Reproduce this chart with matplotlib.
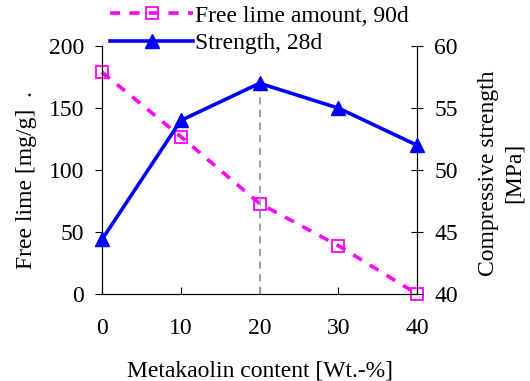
import matplotlib.pyplot as plt

plt.rcParams["font.family"] = ["Liberation Serif", "DejaVu Serif"]

metakaolin = [0, 10, 20, 30, 40]
free_lime = [179, 127, 73, 39, 0]
strength = [44.4, 54, 57, 55, 52]
peak_x = 20
peak_strength = 57

fs = 17

fig = plt.figure(figsize=(5.3, 3.81), dpi=100)
ax = fig.add_axes([0.1925, 0.2283, 0.5945, 0.6507])
ax2 = ax.twinx()

l1, = ax.plot(metakaolin, free_lime, color="#FF00FF", linestyle=(0, (2.8, 2.6)),
              linewidth=2.6, marker="s", markersize=8, markerfacecolor="none",
              markeredgecolor="#FF00FF", markeredgewidth=1.3, clip_on=False, zorder=3)
l2, = ax2.plot(metakaolin, strength, color="#0000FF", linewidth=2.6, marker="^",
               markersize=10, clip_on=False, zorder=3)

# dashed guide from the axis up to the peak strength
ax2.plot([peak_x, peak_x], [40, peak_strength], color="#999999", linestyle=(0, (4, 3)),
         linewidth=1.3, zorder=1)

ax.set_xlim(0, 40)
ax.set_ylim(0, 200)
ax2.set_ylim(40, 60)
ax.set_xticks(metakaolin)
ax.set_yticks([0, 50, 100, 150, 200])
ax2.set_yticks([40, 45, 50, 55, 60])

for a in (ax, ax2):
    a.spines["top"].set_visible(False)
    a.tick_params(labelsize=fs, width=0.8, length=5)
ax.tick_params(axis="x", direction="in", pad=17)
ax.tick_params(axis="y", direction="out", pad=8)
ax2.tick_params(axis="y", direction="inout", length=9, pad=8)

ax.set_xlabel("Metakaolin content [Wt.-%]", fontsize=fs, labelpad=16)
ax.set_ylabel("Free lime [mg/g]  .", fontsize=fs)
ax.yaxis.set_label_coords(-0.206, 0.46)
ax2.set_ylabel("Compressive strength\n[MPa]", fontsize=fs, linespacing=1.3)
ax2.yaxis.set_label_coords(1.194, 0.488)

fig.legend([l1, l2], ["Free lime amount, 90d", "Strength, 28d"],
           loc="upper left", bbox_to_anchor=(0.177, 1.03), frameon=False,
           fontsize=fs, handlelength=3.5, handletextpad=0.1, labelspacing=0.25,
           borderpad=0.2)

fig.savefig("out.png", dpi=100)
